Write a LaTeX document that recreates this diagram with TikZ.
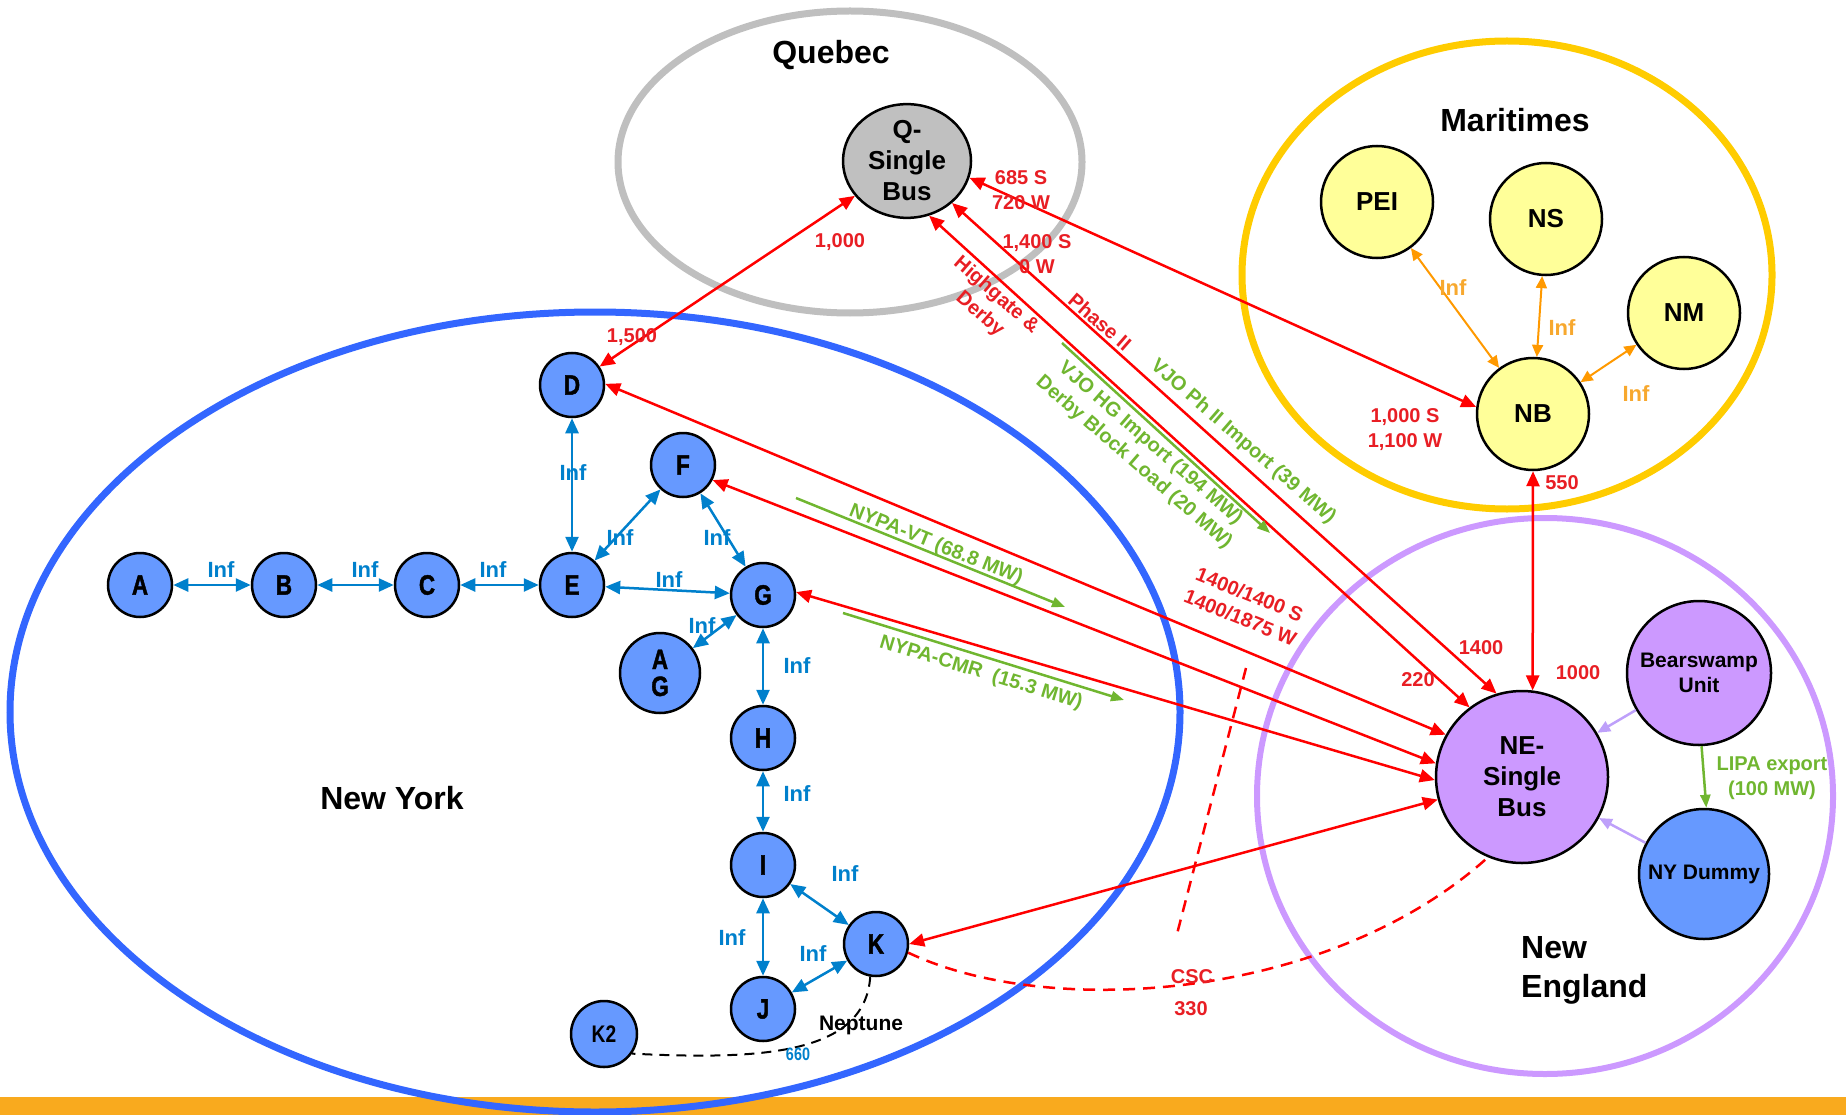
\documentclass[tikz,border=0pt]{standalone}
\usepackage{fontspec}
\setmainfont{Liberation Sans}
\newfontfamily\narrowfont[FakeStretch=0.8]{Liberation Sans}
\newfontfamily\heavyfont[FakeStretch=0.8,FakeBold=1.5]{Liberation Sans}
\usepackage{tikz}
\usetikzlibrary{arrows.meta}
\usetikzlibrary{shapes.geometric}

\definecolor{nyfill}{RGB}{102,153,255}
\definecolor{nyring}{RGB}{51,102,255}
\definecolor{qring}{RGB}{191,191,191}
\definecolor{qfill}{RGB}{192,192,192}
\definecolor{mring}{RGB}{255,204,0}
\definecolor{mfill}{RGB}{255,255,153}
\definecolor{nering}{RGB}{204,153,255}
\definecolor{nefill}{RGB}{204,153,255}
\definecolor{infblue}{RGB}{0,128,204}
\definecolor{tiered}{RGB}{255,0,0}
\definecolor{labred}{RGB}{232,30,36}
\definecolor{cgreen}{RGB}{112,182,48}
\definecolor{morange}{RGB}{255,153,0}
\definecolor{morangetext}{RGB}{247,168,46}
\definecolor{nearrow}{RGB}{190,160,250}
\definecolor{barorange}{RGB}{249,170,30}

\newcommand{\letterfont}{\heavyfont\bfseries\fontsize{28}{27}\selectfont}
\newcommand{\busfont}{\bfseries\fontsize{26}{31}\selectfont}
\newcommand{\unitfont}{\bfseries\fontsize{21}{25}\selectfont}
\newcommand{\regionfont}{\bfseries\fontsize{32}{39}\selectfont}
\newcommand{\inffont}{\bfseries\fontsize{22}{22}\selectfont}
\newcommand{\tiefont}{\bfseries\fontsize{20}{25}\selectfont}

\tikzstyle{region}=[line width=7pt]
\tikzstyle{regionlabel}=[font=\regionfont, align=left]
\tikzstyle{nybus}=[circle, draw=black, line width=2.5pt, fill=nyfill, inner sep=0pt, minimum size=64pt, align=center, font=\letterfont]
\tikzstyle{mbus}=[circle, draw=black, line width=2.5pt, fill=mfill, inner sep=0pt, minimum size=112pt, font=\busfont]
\tikzstyle{unitbus}=[circle, draw=black, line width=2.5pt, inner sep=0pt, align=center, font=\unitfont]
\tikzstyle{infarrow}=[draw=infblue, line width=2.5pt, >={Triangle[length=15pt,width=13pt]}, <->]
\tikzstyle{marrow}=[draw=morange, line width=2pt, >={Triangle[length=12pt,width=11pt]}, <->]
\tikzstyle{tie}=[draw=tiered, line width=2.5pt, >={Triangle[length=15pt,width=13pt]}, <->]
\tikzstyle{tiedashed}=[draw=tiered, line width=2.5pt, dash pattern=on 12pt off 8pt]
\tikzstyle{contract}=[draw=cgreen, line width=2.5pt, >={Triangle[length=13pt,width=10pt]}, ->]
\tikzstyle{feed}=[draw=nearrow, line width=2.5pt, >={Triangle[length=13pt,width=11pt]}, ->]
\tikzstyle{inflabel}=[text=infblue, font=\inffont]
\tikzstyle{mlabel}=[text=morangetext, font=\inffont]
\tikzstyle{tielabel}=[text=labred, font=\tiefont, align=center]
\tikzstyle{clabel}=[text=cgreen, font=\tiefont, align=center]

\begin{document}
\begin{tikzpicture}[x=1pt,y=-1pt]
  \useasboundingbox (0,0) rectangle (1846,1115);
  \fill[barorange] (0,1097) rectangle (1846,1115);

  % control areas
  \draw[region, draw=qring] (850,162) ellipse [x radius=232, y radius=151];
  \draw[region, draw=mring] (1507,275) ellipse [x radius=265, y radius=234];
  \draw[region, draw=nyring] (595,712) ellipse [x radius=585, y radius=400];
  \draw[region, draw=nering, line width=6pt] (1545,796) ellipse [x radius=288, y radius=278];
  \node[regionlabel] (lquebec) at (831,55) {Quebec};
  \node[regionlabel] (lmaritimes) at (1515,120) {Maritimes};
  \node[regionlabel] (lnewyork) at (392,798) {New York};
  \node[regionlabel, anchor=west, inner sep=0pt] (lnewengland) at (1521,970) {New\\England};

  % buses
  \node[ellipse, draw=black, line width=2.5pt, fill=qfill, inner sep=0pt, minimum width=128pt, minimum height=113pt, align=center, font=\busfont] (qbus) at (907,161) {Q-\\Single\\Bus};
  \node[mbus] (pei) at (1377,202) {PEI};
  \node[mbus] (ns) at (1546,219) {NS};
  \node[mbus] (nm) at (1684,313) {NM};
  \node[mbus] (nb) at (1533,414) {NB};
  \node[unitbus, fill=nefill, minimum size=172pt, font=\busfont] (nebus) at (1522,777) {NE-\\Single\\Bus};
  \node[unitbus, fill=nefill, minimum size=144pt] (bear) at (1699,673) {Bearswamp\\Unit};
  \node[unitbus, fill=nyfill, minimum size=130pt] (nydummy) at (1704,874) {NY Dummy};
  \node[nybus] (nyA) at (140,585) {A};
  \node[nybus] (nyB) at (284,585) {B};
  \node[nybus] (nyC) at (427,585) {C};
  \node[nybus] (nyD) at (572,385) {D};
  \node[nybus] (nyE) at (572,585) {E};
  \node[nybus] (nyF) at (683,465) {F};
  \node[nybus] (nyG) at (763,595) {G};
  \node[nybus, minimum size=80pt] (nyAG) at (660,673) {A\\G};
  \node[nybus] (nyH) at (763,738) {H};
  \node[nybus] (nyI) at (763,865) {I};
  \node[nybus] (nyJ) at (763,1009) {J};
  \node[nybus] (nyK) at (876,944) {K};
  \node[nybus, minimum size=66pt, font=\narrowfont\bfseries\fontsize{24}{24}\selectfont] (nyK2) at (604,1034) {K2};

  % new york ties
  \draw[infarrow] (nyA) -- (nyB);
  \draw[infarrow] (nyB) -- (nyC);
  \draw[infarrow] (nyC) -- (nyE);
  \draw[infarrow] (nyD) -- (nyE);
  \draw[infarrow] (nyE) -- (nyF);
  \draw[infarrow] (nyF) -- (nyG);
  \draw[infarrow] (nyE) -- (nyG);
  \draw[infarrow] (nyG) -- (nyAG);
  \draw[infarrow] (nyG) -- (nyH);
  \draw[infarrow] (nyH) -- (nyI);
  \draw[infarrow] (nyI) -- (nyK);
  \draw[infarrow] (nyI) -- (nyJ);
  \draw[infarrow] (nyJ) -- (nyK);
  \node[inflabel] (infab) at (221,570) {Inf};
  \node[inflabel] (infbc) at (365,570) {Inf};
  \node[inflabel] (infce) at (493,570) {Inf};
  \node[inflabel] (infde) at (573,473) {Inf};
  \node[inflabel] (infef) at (620,538) {Inf};
  \node[inflabel] (inffg) at (717,538) {Inf};
  \node[inflabel] (infeg) at (669,580) {Inf};
  \node[inflabel] (infgag) at (702,626) {Inf};
  \node[inflabel] (infgh) at (797,666) {Inf};
  \node[inflabel] (infhi) at (797,794) {Inf};
  \node[inflabel] (infik) at (845,874) {Inf};
  \node[inflabel] (infij) at (732,938) {Inf};
  \node[inflabel] (infjk) at (813,954) {Inf};

  % maritimes ties
  \draw[marrow] (pei) -- (nb);
  \draw[marrow] (ns) -- (nb);
  \draw[marrow] (nm) -- (nb);
  \node[mlabel] (infpei) at (1453,288) {Inf};
  \node[mlabel] (infns) at (1562,328) {Inf};
  \node[mlabel] (infnm) at (1636,394) {Inf};

  % interfaces
  \draw[tie] (qbus) -- (nyD);
  \draw[tie] (qbus.-15) -- (nb.173);
  \draw[tie] (qbus.-43) -- (nebus.107);
  \draw[tie] (qbus.-68) -- (nebus.127);
  \draw[tie] (nb.south) -- (nebus.83);
  \draw[tie] (nyD.2) -- (nebus.151);
  \draw[tie] (nyF.-27) -- (nebus.171);
  \draw[tie] (nyG.5) -- (nebus.-178);
  \draw[tie] (nyK.east) -- (nebus.195);
  \draw[tiedashed] (nyK.-15) .. controls (1050,1020) and (1330,1000) .. (nebus.-113);
  \coordinate (cscA) at (1246,668);
  \coordinate (cscB) at (1177,934);
  \draw[tiedashed] (cscA) -- (cscB);
  \draw[black, line width=2pt, dash pattern=on 10pt off 7pt] (nyK.-100) .. controls (865,1055) and (760,1060) .. (nyK2.-35);
  \draw[feed] (bear) -- (nebus);
  \draw[feed] (nydummy) -- (nebus);
  \draw[contract] (bear.-88) -- (nydummy.88);

  \node[tielabel] (l1000q) at (840,242) {1,000};
  \node[tielabel] (l1500) at (632,337) {1,500};
  \node[tielabel] (l685) at (1021,190) {685 S\\720 W};
  \node[tielabel] (l1400q) at (1037,254) {1,400 S\\0 W};
  \node[tielabel] (l1000nb) at (1405,430) {1,000 S\\1,100 W};
  \node[tielabel, rotate=-41] (lphase) at (1100,322) {Phase II};
  \node[tielabel, rotate=-41] (lhighgate) at (988,305) {Highgate \&\\Derby};
  \node[tielabel] (l220) at (1418,680) {220};
  \node[tielabel] (l1400ne) at (1481,648) {1400};
  \node[tielabel] (l1000ne) at (1578,673) {1000};
  \node[tielabel] (l550) at (1562,483) {550};
  \node[tielabel, rotate=-22] (l1875) at (1245,606) {1400/1400 S\\1400/1875 W};
  \node[tielabel] (lcsc) at (1192,977) {CSC};
  \node[tielabel] (l330) at (1191,1009) {330};
  \node[font=\bfseries\fontsize{21}{21}\selectfont] (lneptune) at (861,1025) {Neptune};
  \node[text=infblue, font=\narrowfont\bfseries\fontsize{18}{18}\selectfont] (l660) at (798,1054) {660};

  % contracts
  \coordinate (vtA) at (796,498);
  \coordinate (vtB) at (1065,607);
  \coordinate (cmrA) at (843,613);
  \coordinate (cmrB) at (1124,700);
  \coordinate (vjoA) at (1062,343);
  \coordinate (vjoB) at (1270,533);
  \draw[contract] (vtA) -- (vtB);
  \draw[contract] (cmrA) -- (cmrB);
  \draw[contract] (vjoA) -- (vjoB);
  \node[clabel, rotate=-22] (lvt) at (936,545) {NYPA-VT (68.8 MW)};
  \node[clabel, rotate=-17] (lcmr) at (981,673) {NYPA-CMR\ \ (15.3 MW)};
  \node[clabel, rotate=-41] (lvjohg) at (1142,453) {VJO HG Import (194 MW)\\Derby Block Load (20 MW)};
  \node[clabel, rotate=-41] (lvjoph) at (1243,442) {VJO Ph II Import (39 MW)};
  \node[clabel] (llipa) at (1772,778) {LIPA export\\(100 MW)};
\end{tikzpicture}
\end{document}
